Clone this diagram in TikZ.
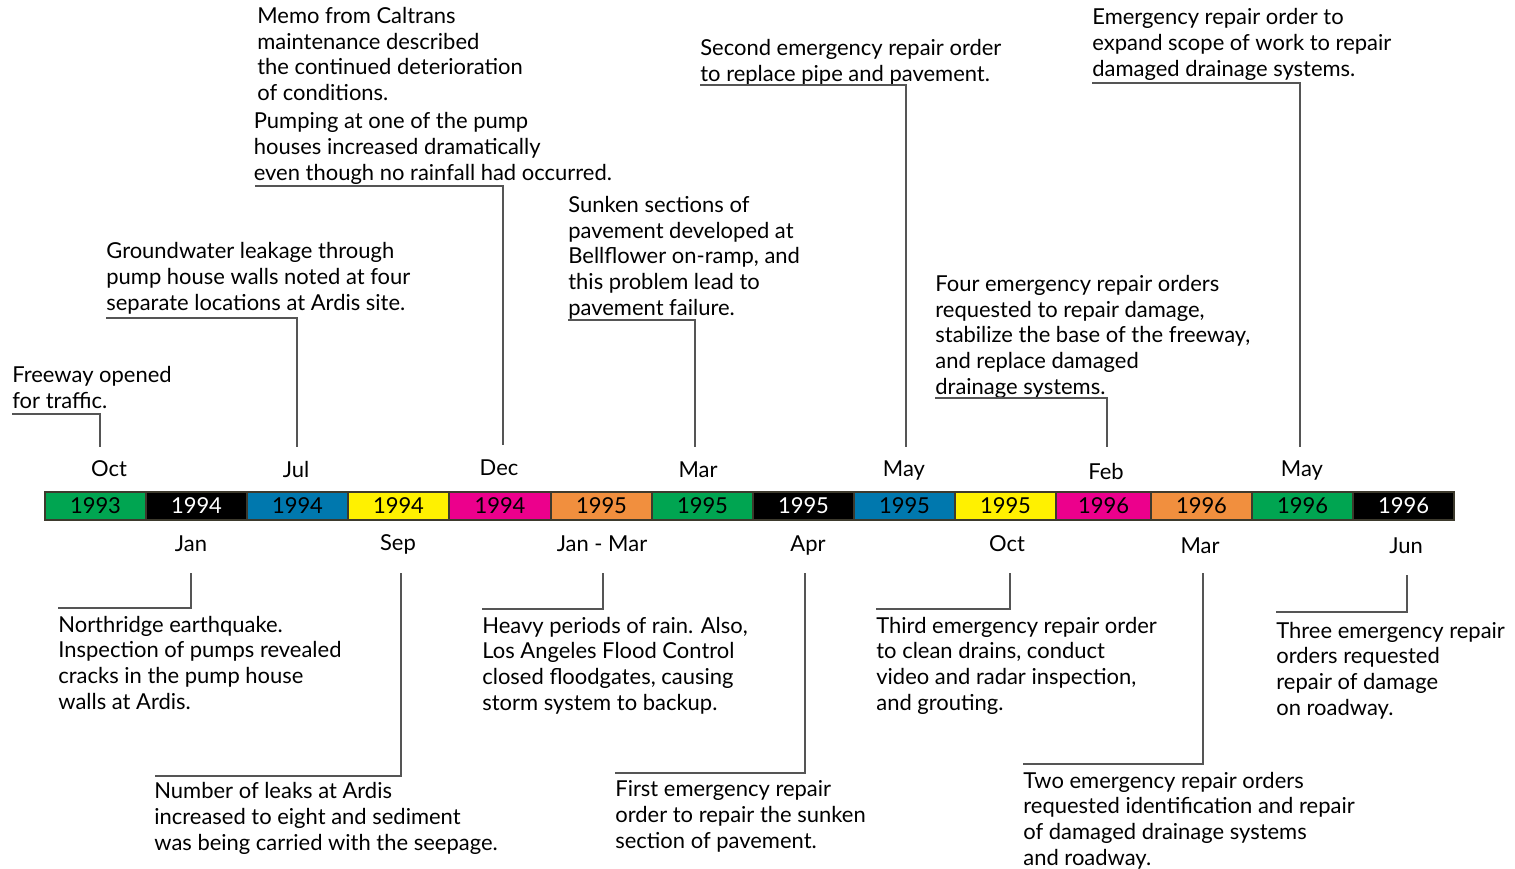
\documentclass[tikz,border=0pt]{standalone}
\usepackage{fontspec}
\setmainfont{Lato}

\definecolor{tlgreen}{HTML}{00A551}
\definecolor{tlblue}{HTML}{0078AE}
\definecolor{tlyellow}{HTML}{FFF100}
\definecolor{tlpink}{HTML}{EC008C}
\definecolor{tlorange}{HTML}{F18F3E}
\definecolor{tlline}{HTML}{555555}

\begin{document}
\begin{tikzpicture}[x=0.02cm,y=-0.02cm,
  note/.style={anchor=base west,align=left,inner sep=0pt,
    font=\fontsize{12.5}{14.6}\selectfont},
  month/.style={inner sep=0pt,font=\fontsize{12.5}{14}\selectfont},
  year/.style={draw=black!75!olive,line width=0.6pt,minimum height=0.56cm,
    inner sep=0pt,font=\fontsize{12.5}{14}\selectfont},
  lead/.style={draw=tlline,line width=0.6pt}]

\useasboundingbox (0,0) rectangle (1515,869);

% the bar of years
\foreach \a/\b/\c/\t/\n [count=\i] in {
  45/146/tlgreen/black/1993, 146/247/black/white/1994,
  247/348/tlblue/black/1994, 348/449/tlyellow/black/1994,
  449/551/tlpink/black/1994, 551/652/tlorange/black/1995,
  652/753/tlgreen/black/1995, 753/854/black/white/1995,
  854/955/tlblue/black/1995, 955/1056/tlyellow/black/1995,
  1056/1151/tlpink/black/1996, 1151/1252/tlorange/black/1996,
  1252/1353/tlgreen/black/1996, 1353/1454/black/white/1996}
{
  \pgfmathsetmacro\w{(\b-\a)*0.02}
  \node[year,fill=\c,text=\t,minimum width=\w cm] (yr\i) at ({(\a+\b)/2},506) {\n};
}

% months above the bar
\node[month] (mOct93) at (109,469) {Oct};
\node[month] (mJul94) at (296,469) {Jul};
\node[month] (mDec94) at (499,468) {Dec};
\node[month] (mMar95) at (698,470) {Mar};
\node[month] (mMay95) at (904,471) {May};
\node[month] (mFeb96) at (1106,471) {Feb};
\node[month] (mMay96) at (1302,471) {May};

% months below the bar
\node[month] (mJan94) at (191,544) {Jan};
\node[month] (mSep94) at (398,544) {Sep};
\node[month] (mJanMar95) at (602,544) {Jan - Mar};
\node[month] (mApr95) at (808,546) {Apr};
\node[month] (mOct95) at (1007,544) {Oct};
\node[month] (mMar96) at (1200,546) {Mar};
\node[month] (mJun96) at (1406,546) {Jun};

% notes above (placed by the baseline of their last line)
\node[note] (open) at (12,408) {Freeway opened\\for traffic.};
\node[note] (leak) at (106,310) {Groundwater leakage through\\pump house walls noted at four\\separate locations at Ardis site.};
\node[note] (memo) at (257,180) {Memo from Caltrans\\maintenance described\\the continued deterioration\\of conditions.\\[1.5pt]\hspace*{-2pt}Pumping at one of the pump\\\hspace*{-2pt}houses increased dramatically\\\hspace*{-2pt}even though no rainfall had occurred.};
\node[note] (sunk) at (568,315) {Sunken sections of\\pavement developed at\\Bellflower on-ramp, and\\this problem lead to\\pavement failure.};
\node[note] (second) at (700,81) {Second emergency repair order\\to replace pipe and pavement.};
\node[note] (four) at (935,394) {Four emergency repair orders\\requested to repair damage,\\stabilize the base of the freeway,\\and replace damaged\\drainage systems.};
\node[note] (scope) at (1092,76) {Emergency repair order to\\expand scope of work to repair\\damaged drainage systems.};

% notes below
\node[note] (quake) at (58,709) {Northridge earthquake.\\Inspection of pumps revealed\\cracks in the pump house\\walls at Ardis.};
\node[note] (eight) at (154,850) {Number of leaks at Ardis\\increased to eight and sediment\\was being carried with the seepage.};
\node[note] (rain) at (482,710) {Heavy periods of rain. Also,\\Los Angeles Flood Control\\closed floodgates, causing\\storm system to backup.};
\node[note] (first) at (615,848) {First emergency repair\\order to repair the sunken\\section of pavement.};
\node[note] (third) at (876,710) {Third emergency repair order\\to clean drains, conduct\\video and radar inspection,\\and grouting.};
\node[note] (two) at (1023,865) {Two emergency repair orders\\requested identification and repair\\of damaged drainage systems\\and roadway.};
\node[note] (three) at (1276,715) {Three emergency repair\\orders requested\\repair of damage\\on roadway.};

% leader lines, above
\coordinate (openL) at (12,414);   \coordinate (openT) at (100,447);
\coordinate (leakL) at (106,318);  \coordinate (leakT) at (297,447);
\coordinate (memoL) at (255,186);  \coordinate (memoT) at (503,445);
\coordinate (sunkL) at (568,320);  \coordinate (sunkT) at (695,447);
\coordinate (secondL) at (700,85); \coordinate (secondT) at (906,447);
\coordinate (fourL) at (935,398);  \coordinate (fourT) at (1107,447);
\coordinate (scopeL) at (1092,83); \coordinate (scopeT) at (1300,447);

% leader lines, below
\coordinate (quakeL) at (58,608);  \coordinate (quakeT) at (191,573);
\coordinate (eightL) at (155,776); \coordinate (eightT) at (401,573);
\coordinate (rainL) at (482,609);  \coordinate (rainT) at (603,573);
\coordinate (firstL) at (615,773); \coordinate (firstT) at (805,573);
\coordinate (thirdL) at (876,609); \coordinate (thirdT) at (1010,573);
\coordinate (twoL) at (1023,764);  \coordinate (twoT) at (1203,573);
\coordinate (threeL) at (1276,612); \coordinate (threeT) at (1407,575);

\foreach \e in {open,leak,memo,sunk,second,four,scope,quake,eight,rain,first,third,two,three}
  \draw[lead] (\e L) -| (\e T);

\end{tikzpicture}
\end{document}
